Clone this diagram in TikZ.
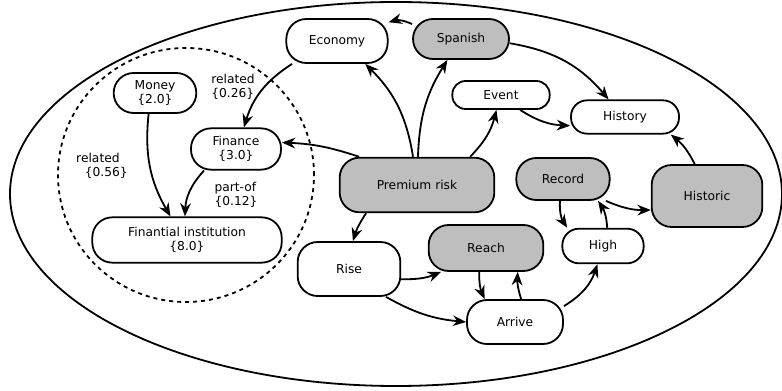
\documentclass[tikz,border=0pt]{standalone}
\usepackage{fontspec}
\setmainfont{DejaVu Sans}
\usetikzlibrary{arrows.meta}
\definecolor{seedgray}{HTML}{BEBEBE}
\tikzset{
  concept/.style={draw,rectangle,rounded corners=15pt,align=center,fill=white,line width=1.35pt,inner sep=2pt},
  seed/.style={concept,fill=seedgray},
  link/.style={-{Stealth[length=10pt,width=8pt]},line width=1.35pt},
  weight/.style={align=left,inner sep=0pt}
}

\begin{document}
\begin{tikzpicture}[x=0.75pt,y=0.75pt,font=\fontsize{9.2}{11}\selectfont]
  \useasboundingbox (0,0) rectangle (782,-391);
  \draw[line width=1.35pt] (396,-194) ellipse [x radius=386,y radius=192];
  \draw[line width=1.35pt,dash pattern=on 3pt off 3pt] (186,-175) ellipse [x radius=128,y radius=127];

  % financial cluster
  \node[concept,minimum width=62pt,minimum height=30pt] (money) at (155,-93) {Money\\\{2.0\}};
  \node[concept,minimum width=67.5pt,minimum height=31pt] (finance) at (236,-149) {Finance\\\{3.0\}};
  \node[concept,minimum width=142pt,minimum height=34pt] (institution) at (187,-240) {Finantial institution\\\{8.0\}};

  % document concepts
  \node[concept,minimum width=76pt,minimum height=33pt] (economy) at (337,-41) {Economy};
  \node[seed,minimum width=72pt,minimum height=30pt] (spanish) at (461,-39) {Spanish};
  \node[concept,rounded corners=10pt,minimum width=73pt,minimum height=21pt] (event) at (501,-95) {Event};
  \node[concept,rounded corners=12pt,minimum width=81pt,minimum height=25pt] (history) at (625,-117) {History};
  \node[seed,minimum width=116pt,minimum height=41pt] (premium) at (417,-185) {Premium risk};
  \node[seed,minimum width=70pt,minimum height=31.5pt] (record) at (563,-179) {Record};
  \node[seed,minimum width=83pt,minimum height=46.5pt] (historic) at (707,-196) {Historic};
  \node[seed,minimum width=86pt,minimum height=34.5pt] (reach) at (486,-248) {Reach};
  \node[concept,minimum width=77pt,minimum height=40.5pt] (rise) at (349,-269) {Rise};
  \node[concept,rounded corners=12.5pt,minimum width=61pt,minimum height=26pt] (high) at (603,-246) {High};
  \node[concept,minimum width=72pt,minimum height=33pt] (arrive) at (515,-322) {Arrive};

  % relation weights
  \node[weight] (w26) at (233,-87) {related\\\{0.26\}};
  \node[weight] (w56) at (102,-166) {related\\\hspace*{0.7em}\{0.56\}};
  \node[weight] (w12) at (236,-195) {part-of\\\{0.12\}};

  \draw[link] (spanish.163) to[bend right=20] (economy.20);
  \draw[link] (spanish.-5) to[bend left=20] (history.133);
  \draw[link] (premium.98) to[bend right=18] (economy.-39);
  \draw[link] (premium.88) to[bend left=15] (spanish.-123);
  \draw[link] (premium.28) to[bend right=15] (event.-107);
  \draw[link] (event.-38) to[bend right=15] (history.-171);
  \draw[link] (premium.154) to[bend right=8] (finance.8);
  \draw[link] (economy.-153) to[bend right=20] (finance.70);
  \draw[link] (money.-107) to[bend right=18] (institution.125);
  \draw[link] (finance.-146) to[bend right=20] (institution.95);
  \draw[link] (premium.-151) to[bend right=8] (rise.82);
  \draw[link] (rise.-11) to[bend right=12] (reach.-152);
  \draw[link] (rise.-37) to[bend right=12] (arrive.180);
  \draw[link] (reach.-106) to[bend right=12] (arrive.143);
  \draw[link] (arrive.75) to[bend left=10] (reach.-37);
  \draw[link] (arrive.18) to[bend right=20] (high.-107);
  \draw[link] (record.-98) to[bend right=18] (high.153);
  \draw[link] (high.77) to[bend right=15] (record.-32);
  \draw[link] (record.-27) to[bend right=12] (historic.-166);
  \draw[link] (historic.111) to[bend right=12] (history.-21);
\end{tikzpicture}
\end{document}
